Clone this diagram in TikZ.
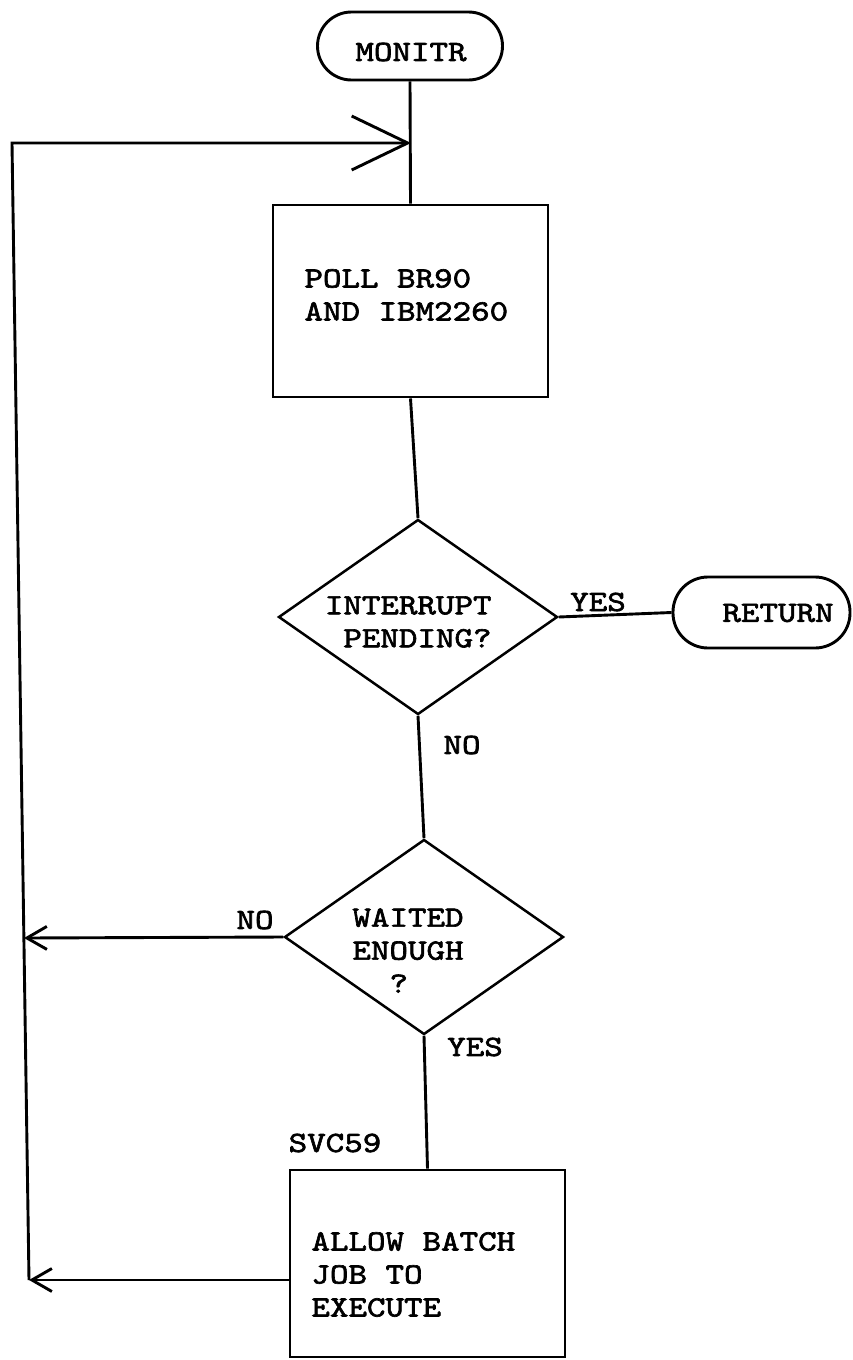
\documentclass[tikz,border=0pt]{standalone}
\usepackage{fontspec}
\newfontfamily\courf{lmmono10-regular.otf}[FakeStretch=1.2, FakeBold=2.2]
\usetikzlibrary{shapes.geometric,arrows.meta}
\begin{document}
\begin{tikzpicture}[x=1pt,y=-1pt,
  line width=2.9pt,
  txt/.style={font=\courf\fontsize{29.4}{33}\selectfont, inner sep=0pt},
  term/.style={draw, rounded corners=34pt, minimum width=185pt, minimum height=68pt, inner sep=0pt},
  procbox/.style={draw, minimum width=275pt, inner sep=0pt},
  decision/.style={draw, diamond, minimum width=279pt, minimum height=195pt, inner sep=0pt, line width=2.5pt},
  bigtip/.style={-{Straight Barb[length=56pt,width=54pt]}},
  smalltip/.style={-{Straight Barb[length=20pt,width=23pt]}},
]
\useasboundingbox (0,0) rectangle (852,1360);

% shapes
\node[term] (monitr) at (410,46) {};
\node[txt] (monitrt) at (411,52) {MONITR};

\node[procbox, minimum height=192pt] (box1) at (410.5,301) {};
\node[txt, anchor=west, align=left] (box1t) at (303,295) {POLL BR90\\AND IBM2260};

\node[decision] (dec1) at (418,617) {};
\node[txt, anchor=east, align=right] (dec1t) at (493,622) {INTERRUPT\\PENDING?};

\node[term, minimum width=177pt, minimum height=71pt, rounded corners=35pt] (ret) at (761.5,612.5) {};
\node[txt] (rett) at (778,613) {RETURN};

\node[decision] (dec2) at (424,937) {};
\node[txt, anchor=west, align=left] (dec2t) at (351,950.5) {WAITED\\ENOUGH\\\ \ ?};

\node[procbox, minimum height=187pt] (box2) at (427.5,1263.5) {};
\node[txt, anchor=west, align=left] (box2t) at (310,1274.5) {ALLOW BATCH\\JOB TO\\EXECUTE};

% labels
\node[txt, anchor=base] (yes1) at (598,611) {YES};
\node[txt] (no1) at (462,745) {NO};
\node[txt] (no2) at (255,920) {NO};
\node[txt] (yes2) at (475,1047) {YES};
\node[txt] (svc) at (335,1143) {SVC59};

% connector points
\coordinate (tl) at (12,143);
\coordinate (bl) at (29,1280);
\coordinate (ml) at (24,938);
\coordinate (j) at (411,143);

% connectors
\draw (monitr.south) -- (box1.north);
\draw[bigtip] (bl) -- (tl) -- (j);
\draw (box1.south) -- (dec1.north);
\draw (dec1.east) -- (ret.west);
\draw (dec1.south) -- (dec2.north);
\draw[smalltip] (dec2.west) -- (ml);
\draw (dec2.south) -- (box2.north);
\draw[smalltip] (box2.west |- bl) -- (bl);
\end{tikzpicture}
\end{document}
